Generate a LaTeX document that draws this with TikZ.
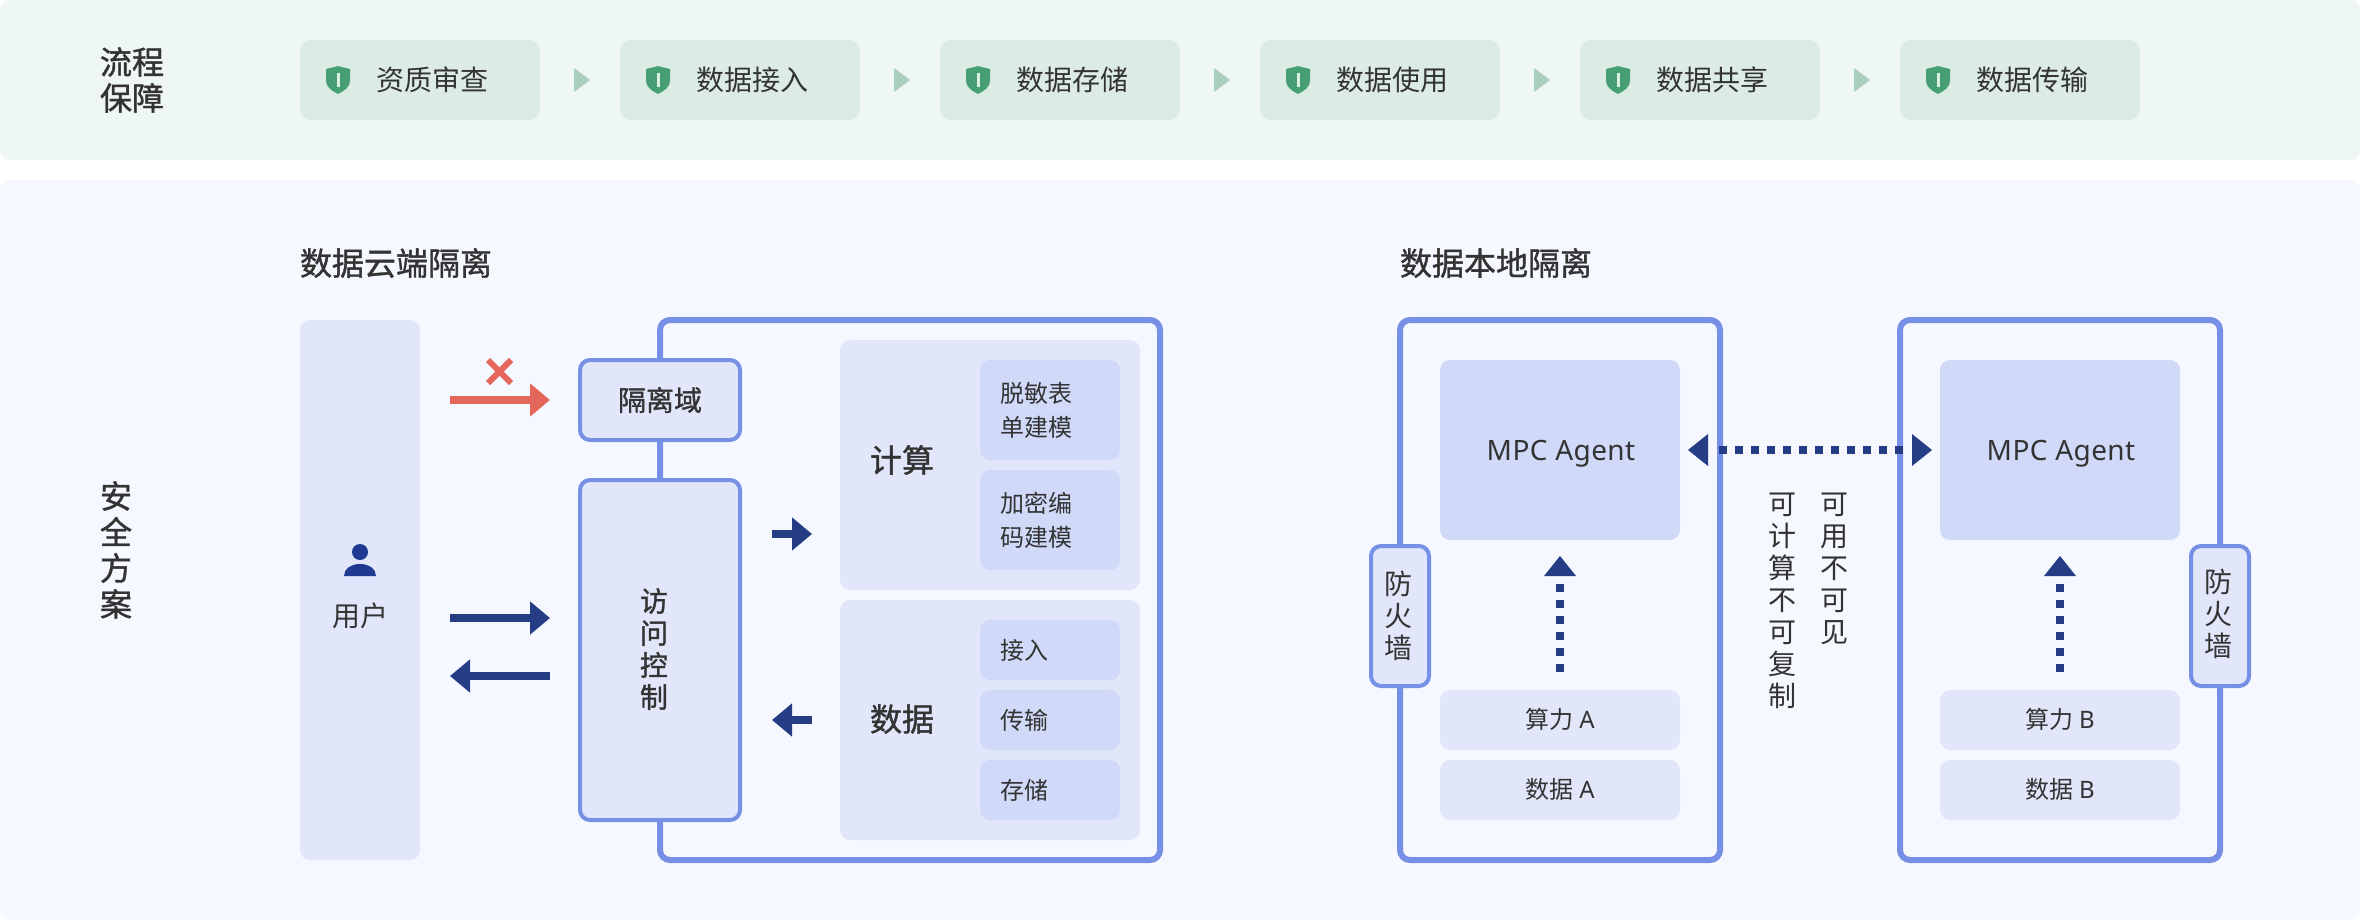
\documentclass[tikz,border=0pt]{standalone}
\usepackage{fontspec}
\usetikzlibrary{arrows.meta}
\setmainfont{Noto Sans CJK SC}
\newfontfamily\medfont[FakeBold=1.2]{Noto Sans CJK SC}
\newfontfamily\latfont[LetterSpace=1.5]{Noto Sans}
\definecolor{bandG}{HTML}{EFF7F4}
\definecolor{stepG}{HTML}{DCECE5}
\definecolor{tipG}{HTML}{ABCFBD}
\definecolor{shieldG}{HTML}{469F74}
\definecolor{bandB}{HTML}{F5F8FF}
\definecolor{frameB}{HTML}{7690E5}
\definecolor{panelB}{HTML}{E1E6FA}
\definecolor{innerB}{HTML}{D0D9F8}
\definecolor{darkB}{HTML}{243D85}
\definecolor{iconB}{HTML}{1F3A8E}
\definecolor{redA}{HTML}{E5665A}
\definecolor{inkK}{HTML}{333333}
\tikzset{
  box/.style={rectangle,rounded corners=10pt,outer sep=0pt,inner sep=0pt,text=inkK,align=center},
  panel/.style={box,fill=panelB},
  inner/.style={box,fill=innerB},
  frame/.style={box,draw=frameB,line width=6pt},
  gate/.style={box,draw=frameB,line width=4pt,fill=panelB},
  stepbox/.style={box,fill=stepG,minimum width=240pt,minimum height=80pt},
  txt24/.style={font=\fontsize{24}{34}\selectfont},
  txt28/.style={font=\fontsize{28}{32}\selectfont},
  med28/.style={font=\fontsize{28}{32}\medfont\selectfont},
  med32/.style={font=\fontsize{32}{36}\medfont\selectfont},
  label/.style={inner sep=0pt,outer sep=0pt,text=inkK,align=center},
  leftlabel/.style={label,align=left,anchor=west},
  bigarrow/.style={line width=8pt,-{Triangle[length=20pt,width=32pt]}},
  dotline/.style={line width=8pt,dash pattern=on 8pt off 8pt,draw=darkB},
  tiphead/.style={fill=darkB},
}
\newcommand{\shieldmark}[1]{%
  \begin{scope}[shift={(#1.west)}]
  \fill[shieldG] (26,-11) .. controls (30,-12) and (35,-13) .. (38,-14)
    .. controls (41,-13) and (46,-12) .. (50,-11) -- (50,1)
    .. controls (50,7) and (44,11) .. (38,14)
    .. controls (32,11) and (26,7) .. (26,1) -- cycle;
  \fill[stepG] (36.5,-7) rectangle (39.5,7);
  \end{scope}
}
\begin{document}
\begin{tikzpicture}[x=1pt,y=-1pt]
\useasboundingbox (0,0) rectangle (2360,920);
\fill[white] (0,0) rectangle (2360,920);
\node[box,fill=bandG,minimum width=2360pt,minimum height=160pt,anchor=north west] (bandtop) at (0,0) {};
\node[box,fill=bandB,minimum width=2360pt,minimum height=740pt,anchor=north west] (bandlow) at (0,180) {};
\node[label,med32] (flow) at (132,80) {流程\\保障};
\node[label,med32] (safe) at (116,550) {安\\全\\方\\案};
% steps
\foreach \n/\x/\t in {1/420/资质审查,2/740/数据接入,3/1060/数据存储,4/1380/数据使用,5/1700/数据共享,6/2020/数据传输}{
  \node[stepbox] (s\n) at (\x,80) {};
  \shieldmark{s\n}
  \node[leftlabel,txt28] (st\n) at ([xshift=76pt]s\n.west) {\t};
}
\foreach \a/\b in {1/2,2/3,3/4,4/5,5/6}{
  \path (s\a.east) -- (s\b.west) coordinate[pos=.5] (m\a);
  \fill[tipG] ([shift={(-6,-12)}]m\a) -- ([shift={(10,0)}]m\a) -- ([shift={(-6,12)}]m\a) -- cycle;
}
% cloud
\node[leftlabel,med32] (t1) at (300,263) {数据云端隔离};
\node[leftlabel,med32] (t2) at (1400,263) {数据本地隔离};
\node[panel,minimum width=120pt,minimum height=540pt] (user) at (360,590) {};
\fill[iconB] (360,552) circle (8pt);
\fill[iconB] (344,576) .. controls (344,569) and (351,564) .. (360,564) .. controls (369,564) and (376,569) .. (376,576) -- cycle;
\node[label,txt28] (userl) at (360,616) {用户};
\node[frame,minimum width=500pt,minimum height=540pt] (cloud) at (910,590) {};
\node[gate,med28,minimum width=160pt,minimum height=80pt] (iso) at (660,400) {隔离域};
\node[gate,minimum width=160pt,minimum height=340pt] (acc) at (660,650) {};
\node[label,med28] (accl) at (654,649) {访\\问\\控\\制};
\node[panel,minimum width=300pt,minimum height=250pt] (calc) at (990,465) {};
\node[panel,minimum width=300pt,minimum height=240pt] (data) at (990,720) {};
\node[label,med32] (calcl) at (902,460) {计算};
\node[label,med32] (datal) at (902,719) {数据};
\node[inner,minimum width=140pt,minimum height=100pt] (c1) at (1050,410) {};
\node[inner,minimum width=140pt,minimum height=100pt] (c2) at (1050,520) {};
\node[inner,minimum width=140pt,minimum height=60pt] (d1) at (1050,650) {};
\node[inner,minimum width=140pt,minimum height=60pt] (d2) at (1050,720) {};
\node[inner,minimum width=140pt,minimum height=60pt] (d3) at (1050,790) {};
\node[leftlabel,txt24] (c1l) at ([xshift=20pt]c1.west) {脱敏表\\单建模};
\node[leftlabel,txt24] (c2l) at ([xshift=20pt]c2.west) {加密编\\码建模};
\node[leftlabel,txt24] (d1l) at ([xshift=20pt]d1.west) {接入};
\node[leftlabel,txt24] (d2l) at ([xshift=20pt]d2.west) {传输};
\node[leftlabel,txt24] (d3l) at ([xshift=20pt]d3.west) {存储};
% arrows
\draw[bigarrow,draw=redA,color=redA,shorten <=30pt,shorten >=30pt] (user.east |- iso.west) -- (iso.west);
\draw[redA,line width=6pt] (488,360) -- (511,383) (511,360) -- (488,383);
\coordinate (uu) at (user.east |- 0,618);
\coordinate (ua) at (acc.west |- 0,618);
\coordinate (vv) at (user.east |- 0,676);
\coordinate (va) at (acc.west |- 0,676);
\draw[bigarrow,draw=darkB,color=darkB,shorten <=30pt,shorten >=30pt] (uu) -- (ua);
\draw[bigarrow,draw=darkB,color=darkB,shorten <=30pt,shorten >=30pt] (va) -- (vv);
\coordinate (ac) at (acc.east |- 0,534);
\coordinate (cc) at (calc.west |- 0,534);
\coordinate (ad) at (acc.east |- 0,720);
\draw[bigarrow,draw=darkB,color=darkB,shorten <=32pt,shorten >=28pt] (ac) -- (cc);
\draw[bigarrow,draw=darkB,color=darkB,shorten <=28pt,shorten >=32pt] (data.west) -- (ad);
% local
\foreach \s/\cx/\fx/\lx/\fy in {A/1560/1400/1398/616,B/2060/2220/2218/614}{
  \node[frame,minimum width=320pt,minimum height=540pt] (f\s) at (\cx,590) {};
  \node[inner,minimum width=240pt,minimum height=180pt] (ag\s) at (\cx,450) {};
  \node[label,anchor=base,font=\fontsize{28}{32}\latfont\selectfont] (agl\s) at ([xshift=1pt,yshift=-10pt]ag\s.center) {MPC Agent};
  \node[panel,minimum width=240pt,minimum height=60pt] (cp\s) at (\cx,720) {};
  \node[panel,minimum width=240pt,minimum height=60pt] (dt\s) at (\cx,790) {};
  \node[label,txt24] (cpl\s) at ([yshift=1pt]cp\s.center) {算力\hspace{6pt}{\latfont\s}};
  \node[label,txt24] (dtl\s) at ([yshift=1pt]dt\s.center) {数据\hspace{6pt}{\latfont\s}};
  \node[gate,minimum width=58pt,minimum height=140pt] (fw\s) at (\fx,616) {};
  \node[label,txt28] (fwl\s) at (\lx,\fy) {防\\火\\墙};
  \draw[dotline,shorten <=18pt,shorten >=44pt] (cp\s.north) -- (ag\s.south);
  \fill[tiphead] ([shift={(0,36)}]ag\s.south) -- ++(16,0) -- ++(-16,-20) -- ++(-16,20) -- cycle;
}
\draw[dotline,shorten <=39pt,shorten >=35pt] (agA.east) -- (agB.west);
\fill[tiphead] ([xshift=8pt]agA.east) -- ++(20,-16) -- ++(0,32) -- cycle;
\fill[tiphead] ([xshift=-8pt]agB.west) -- ++(-20,-16) -- ++(0,32) -- cycle;
\node[label,txt28] (n1) at (1782,601) {可\\计\\算\\不\\可\\复\\制};
\node[label,txt28] (n2) at (1834,569) {可\\用\\不\\可\\见};
\end{tikzpicture}
\end{document}
